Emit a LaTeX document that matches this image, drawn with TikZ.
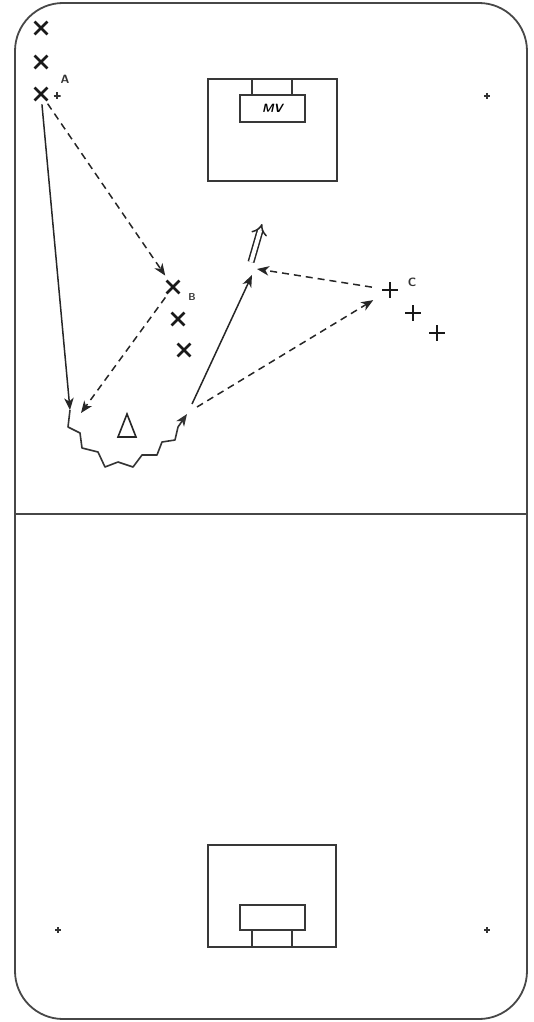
\documentclass[tikz,border=0pt]{standalone}
\usetikzlibrary{arrows.meta,shapes.misc,shapes.geometric}
\begin{document}
\begin{tikzpicture}[x=1pt,y=-1pt,
  field/.style={line width=1.8pt,draw=black!72},
  goal/.style={line width=1.6pt,draw=black!78},
  xmark/.style={cross out,draw=black!90,line width=2.8pt,minimum size=10pt,inner sep=0pt},
  pmark/.style={minimum size=#1,inner sep=0pt,
     path picture={\draw[line width=2.8pt,black!90] (path picture bounding box.north) -- (path picture bounding box.south)
        (path picture bounding box.west) -- (path picture bounding box.east);}},
  pmark/.default=16pt,
  dotmark/.style={minimum size=6pt,inner sep=0pt,
     path picture={\draw[line width=1.5pt,black!80] (path picture bounding box.north) -- (path picture bounding box.south)
        (path picture bounding box.west) -- (path picture bounding box.east);}},
  lab/.style={font=\sffamily\bfseries\fontsize{12}{14}\selectfont,inner sep=0pt,text=black!80},
  tip/.style={-{Stealth[length=12pt,width=9.5pt,inset=3.5pt]}},
  run/.style={tip,line width=1.5pt,draw=black!85},
  pass/.style={tip,line width=1.5pt,draw=black!85,dash pattern=on 7pt off 5pt},
]
\useasboundingbox (0,0) rectangle (533,1022);
% field
\draw[field,rounded corners=48pt] (15,3) rectangle (527,1019);
\draw[field] (15,514) -- (527,514);
% top goal
\draw[goal] (208,79) rectangle (337,181);
\node[goal,draw,minimum width=65pt,minimum height=27pt,inner sep=0pt,
  font=\sffamily\bfseries\itshape\fontsize{12}{14}\selectfont] (mv) at (272.5,108.5) {MV};
\draw[goal] (252,79) -- (252,95) (292,79) -- (292,95);
% bottom goal
\draw[goal] (208,845) rectangle (336,947);
\node[goal,draw,minimum width=65pt,minimum height=25pt,inner sep=0pt] (gb) at (272.5,917.5) {};
\draw[goal] (252,930) -- (252,947) (292,930) -- (292,947);
% corner dots
\node[dotmark] (d1) at (487,96) {};
\node[dotmark] (d2) at (58,930) {};
\node[dotmark] (d3) at (487,930) {};
% players A
\node[xmark] (a1) at (41,28) {};
\node[xmark] (a2) at (41,62) {};
\node[xmark] (a3) at (41,94) {};
\node[dotmark,minimum size=7pt] (ap) at (57,96) {};
\node[lab] (la) at (65,79) {A};
% players B
\node[xmark] (b1) at (173,287) {};
\node[xmark] (b2) at (178,319) {};
\node[xmark] (b3) at (184,350) {};
\node[lab,font=\sffamily\bfseries\fontsize{10}{12}\selectfont] (lb) at (192,297) {B};
% players C
\node[pmark] (c1) at (390,290) {};
\node[pmark] (c2) at (413,313) {};
\node[pmark] (c3) at (437,333) {};
\node[lab] (lc) at (412,282) {C};
% triangle
\coordinate (tri) at (127,425);
\draw[line width=1.6pt,black!85,line join=miter] (118,437) -- (127,414) -- (136,437) -- cycle;
% coordinates
\coordinate (z0) at (70,410);
\coordinate (z1) at (187,414);
\coordinate (p1) at (81,413);
\coordinate (r0) at (192,404);
\coordinate (r1) at (252,275);
\coordinate (q1) at (257,269);
\coordinate (s0) at (197,407);
\coordinate (u0) at (251,262);
\coordinate (u1) at (262,224);
% connectors
\draw[run,shorten <=4pt] (a3) -- (z0);
\draw[pass,shorten <=4pt,shorten >=6pt] (a3) -- (b1);
\draw[pass,shorten <=5pt] (b1) -- (p1);
\draw[tip,line width=1.6pt,draw=black!80,line join=round]
  (z0) -- (68,427) -- (80,433) -- (82,448) -- (98,452) -- (105,467) -- (118,462)
  -- (133,467) -- (142,455) -- (157,455) -- (162,442) -- (175,440) -- (178,427) -- (z1);
\draw[run] (r0) -- (r1);
\draw[pass,shorten <=10pt] (c1) -- (q1);
\draw[pass,shorten >=10pt] (s0) -- (c1);
\draw[line width=1.5pt,double distance=4pt,draw=black!85,-{Implies[]}] (u0) -- (u1);
\end{tikzpicture}
\end{document}
